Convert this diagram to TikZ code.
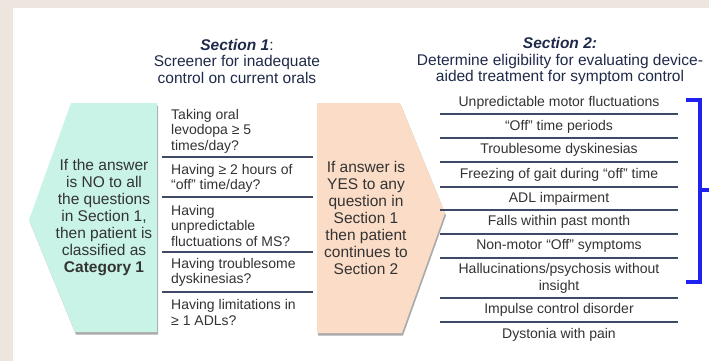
\documentclass[tikz,border=0pt]{standalone}
\usepackage{fontspec}
\setmainfont{Liberation Sans}
\usetikzlibrary{shadows}
\definecolor{bgbeige}{HTML}{ECE6DE}
\definecolor{mint}{HTML}{C8F3E6}
\definecolor{peach}{HTML}{FBDCC7}
\definecolor{txt}{HTML}{333333}
\definecolor{navy}{HTML}{1F2A4A}
\definecolor{rule}{HTML}{404868}
\definecolor{brack}{HTML}{1E22F0}
\tikzset{
  shapeshadow/.style={drop shadow={shadow xshift=1pt, shadow yshift=-2.5pt, opacity=.5, fill=black!65}},
  bigtxt/.style={text=txt, align=center, inner sep=0pt, font=\fontsize{15.5}{17}\selectfont},
  qtxt/.style={text=txt, align=left, anchor=west, inner sep=0pt, font=\fontsize{14}{15.5}\selectfont},
  ltxt/.style={text=txt, align=center, inner sep=0pt, font=\fontsize{14}{17}\selectfont},
  headtxt/.style={text=navy, align=center, inner sep=0pt, font=\fontsize{15.5}{16.5}\selectfont},
  sep/.style={draw=rule, line width=1.3pt},
  brk/.style={draw=brack, line width=3.6pt}
}
\begin{document}
\begin{tikzpicture}[x=1pt,y=-1pt]
\useasboundingbox (0,0) rectangle (709,361);
\fill[bgbeige] (0,0) rectangle (709,361);
\fill[white] (13,8) rectangle (709,361);

% headings
\node[headtxt] (h1) at (237,61) {\textbf{\textit{Section 1}}:\\Screener for inadequate\\control on current orals};
\node[headtxt] (h2) at (560,61) {\textbf{\textit{Section 2:}}\\Determine eligibility for evaluating device-\\aided treatment for symptom control};

% green pentagon
\fill[mint, shapeshadow] (71,103) -- (157,103) -- (157,332) -- (75,332) -- (29,220) -- cycle;
\node[bigtxt] (g) at (104,218) {If the answer\\is NO to all\\the questions\\in Section 1,\\then patient is\\classified as\\\textbf{Category 1}};

% orange pentagon
\fill[peach, shapeshadow] (317,103) -- (400,103) -- (445,213) -- (402,333) -- (317,333) -- cycle;
\node[bigtxt] (o) at (366,218) {If answer is\\YES to any\\question in\\Section 1\\then patient\\continues to\\Section 2};

% questions column
\coordinate (q0) at (162,157); \coordinate (q0e) at (313,157);
\coordinate (q1) at (162,197); \coordinate (q1e) at (313,197);
\coordinate (q2) at (162,252); \coordinate (q2e) at (313,252);
\coordinate (q3) at (162,292); \coordinate (q3e) at (313,292);
\draw[sep] (q0) -- (q0e);
\draw[sep] (q1) -- (q1e);
\draw[sep] (q2) -- (q2e);
\draw[sep] (q3) -- (q3e);
\node[qtxt] (qa) at (171,131) {Taking oral\\levodopa ≥ 5\\times/day?};
\node[qtxt] (qb) at (171,178.5) {Having ≥ 2 hours of\\“off” time/day?};
\node[qtxt] (qc) at (171,225.5) {Having\\unpredictable\\fluctuations of MS?};
\node[qtxt] (qd) at (171,272.5) {Having troublesome\\dyskinesias?};
\node[qtxt] (qe) at (171,312.5) {Having limitations in\\≥ 1 ADLs?};

% section 2 list
\foreach \y [count=\i] in {114,138,162,187,210,234,258,298,322}{
  \coordinate (r\i) at (440,\y); \coordinate (r\i e) at (678,\y);
  \draw[sep] (r\i) -- (r\i e);
}
\node[ltxt] (l1) at (559,103) {Unpredictable motor fluctuations};
\node[ltxt] (l2) at (559,127) {“Off” time periods};
\node[ltxt] (l3) at (559,150) {Troublesome dyskinesias};
\node[ltxt] (l4) at (559,174.5) {Freezing of gait during “off” time};
\node[ltxt] (l5) at (559,198.5) {ADL impairment};
\node[ltxt] (l6) at (559,222) {Falls within past month};
\node[ltxt] (l7) at (559,246) {Non-motor “Off” symptoms};
\node[ltxt] (l8) at (559,278.5) {Hallucinations/psychosis without\\insight};
\node[ltxt] (l9) at (559,310) {Impulse control disorder};
\node[ltxt] (l10) at (559,335) {Dystonia with pain};

% bracket
\coordinate (bt) at (686,100); \coordinate (btr) at (700,100);
\coordinate (bb) at (686,282); \coordinate (bbr) at (700,282);
\coordinate (bm) at (700,190); \coordinate (bme) at (709,190);
\draw[brk, line join=miter] (bt) -- (btr) -- (bbr) -- (bb);
\draw[brk] (bm) -- (bme);
\end{tikzpicture}
\end{document}
